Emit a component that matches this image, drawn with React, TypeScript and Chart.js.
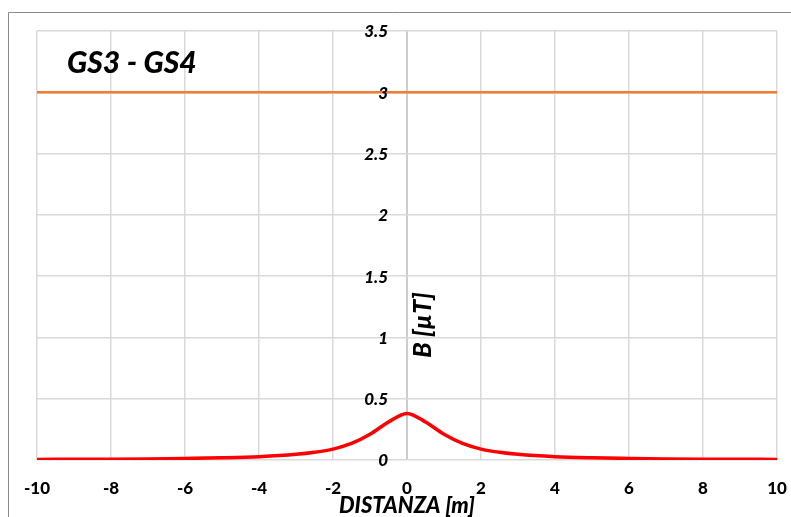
import { useEffect, useRef } from "react";
import { Chart, registerables } from "chart.js";

Chart.register(...registerables);

const distances = [-10, -9, -8, -7, -6, -5, -4, -3, -2.5, -2, -1.5, -1, -0.5, 0, 0.5, 1, 1.5, 2, 2.5, 3, 4, 5, 6, 7, 8, 9, 10];
const fieldValues = [0.005, 0.006, 0.007, 0.009, 0.013, 0.018, 0.027, 0.046, 0.063, 0.089, 0.135, 0.21, 0.31, 0.38, 0.31, 0.21, 0.135, 0.089, 0.063, 0.046, 0.027, 0.018, 0.013, 0.009, 0.007, 0.006, 0.005];
const limitX = [-10, 10];
const limitY = [3, 3];
const xTickValues = [-10, -8, -6, -4, -2, 0, 2, 4, 6, 8, 10];
const yTickValues = [0, 0.5, 1, 1.5, 2, 2.5, 3, 3.5];
const chartTitle = "GS3 - GS4";
const xTitle = "DISTANZA [m]";
const yTitle = "B [µT]";

const FONT = "Lato, 'Open Sans', sans-serif";

const labelsPlugin = {
  id: "labels",
  afterDraw(chart: any) {
    const ctx = chart.ctx as CanvasRenderingContext2D;
    const xs = chart.scales.x;
    const ys = chart.scales.y;
    ctx.save();
    // outer frame
    ctx.strokeStyle = "#8a8a8a";
    ctx.lineWidth = 1;
    ctx.beginPath();
    ctx.moveTo(8.5, 517);
    ctx.lineTo(8.5, 12.5);
    ctx.lineTo(791, 12.5);
    ctx.stroke();

    ctx.fillStyle = "#000";
    // x tick labels
    ctx.font = `900 17px ${FONT}`;
    ctx.textAlign = "center";
    ctx.textBaseline = "middle";
    for (const v of xTickValues) {
      ctx.fillText(String(v), xs.getPixelForValue(v), 489);
    }
    // y tick labels
    ctx.font = `italic 900 17px ${FONT}`;
    ctx.textAlign = "right";
    const x0 = xs.getPixelForValue(0);
    for (const v of yTickValues) {
      ctx.fillText(String(v), x0 - 19, ys.getPixelForValue(v) + 1);
    }
    // x title
    ctx.font = `italic 900 22px ${FONT}`;
    ctx.textAlign = "center";
    ctx.fillText(xTitle, x0, 506);
    // y title
    ctx.save();
    ctx.translate(x0 + 16, 325);
    ctx.rotate(-Math.PI / 2);
    ctx.font = `italic 900 25px ${FONT}`;
    ctx.fillText(yTitle, 0, 0);
    ctx.restore();
    // chart title
    ctx.font = `italic 900 30px ${FONT}`;
    ctx.textAlign = "left";
    ctx.fillText(chartTitle, 67, 63);
    ctx.restore();
  },
};

export default function App() {
  const ref = useRef<HTMLCanvasElement | null>(null);
  useEffect(() => {
    if (!ref.current) return;
    const chart = new Chart(ref.current, {
      type: "line",
      data: {
        datasets: [
          {
            label: "B",
            data: distances.map((x, i) => ({ x, y: fieldValues[i] })),
            borderColor: "#ff0000",
            borderWidth: 3.5,
            pointRadius: 0,
            cubicInterpolationMode: "monotone",
            fill: false,
          },
          {
            label: "Limite",
            data: limitX.map((x, i) => ({ x, y: limitY[i] })),
            borderColor: "#ed7d31",
            borderWidth: 2.5,
            pointRadius: 0,
            fill: false,
          },
        ],
      },
      options: {
        animation: false,
        responsive: true,
        maintainAspectRatio: false,
        layout: { padding: { left: 37, right: 14, top: 31, bottom: 57 } },
        plugins: { legend: { display: false }, tooltip: { enabled: false }, title: { display: false } },
        scales: {
          x: {
            type: "linear",
            min: -10,
            max: 10,
            ticks: { display: false, stepSize: 2 },
            grid: {
              drawTicks: false,
              color: (c: any) => (c.tick && c.tick.value === 0 ? "#cccccc" : "#d9d9d9"),
              lineWidth: (c: any) => (c.tick && c.tick.value === 0 ? 2 : 1.5),
            },
            border: { display: false },
          },
          y: {
            type: "linear",
            min: 0,
            max: 3.5,
            ticks: { display: false, stepSize: 0.5 },
            grid: { drawTicks: false, color: "#d9d9d9", lineWidth: 1.5 },
            border: { display: false },
          },
        },
      },
      plugins: [labelsPlugin],
    });
    return () => chart.destroy();
  }, []);
  return (
    <div style={{ position: "absolute", left: 0, top: 0, width: 791, height: 517, background: "#fff" }}>
      <canvas ref={ref} />
    </div>
  );
}
